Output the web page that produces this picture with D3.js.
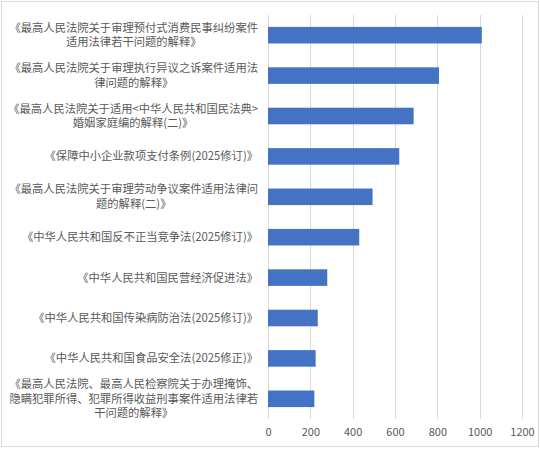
<!DOCTYPE html>
<html>
<head>
<meta charset="utf-8">
<script src="https://cdn.jsdelivr.net/npm/d3@7"></script>
<style>
  html, body { margin: 0; padding: 0; background: #fff; }
  svg { display: block; }
  text { font-family: "Noto Sans CJK SC", "Noto Sans", sans-serif; }
</style>
</head>
<body>
<svg id="chart" width="540" height="450"></svg>
<script>
const categories = [
  "《最高人民法院关于审理预付式消费民事纠纷案件\n适用法律若干问题的解释》",
  "《最高人民法院关于审理执行异议之诉案件适用法\n律问题的解释》",
  "《最高人民法院关于适用<中华人民共和国民法典>\n婚姻家庭编的解释(二)》",
  "《保障中小企业款项支付条例(2025修订)》",
  "《最高人民法院关于审理劳动争议案件适用法律问\n题的解释(二)》",
  "《中华人民共和国反不正当竞争法(2025修订)》",
  "《中华人民共和国民营经济促进法》",
  "《中华人民共和国传染病防治法(2025修订)》",
  "《中华人民共和国食品安全法(2025修正)》",
  "《最高人民法院、最高人民检察院关于办理掩饰、\n隐瞒犯罪所得、犯罪所得收益刑事案件适用法律若\n干问题的解释》"
];
const values = [1010, 808, 688, 620, 494, 431, 280, 235, 225, 219];
const tickValues = [0, 200, 400, 600, 800, 1000, 1200];

const svg = d3.select("#chart");
const W = 540, H = 450;

// outer border
svg.append("rect").attr("x", 1.5).attr("y", 1.5).attr("width", W - 3).attr("height", H - 5)
  .attr("fill", "#fff").attr("stroke", "#d9d9d9").attr("stroke-width", 1);

const x = d3.scaleLinear().domain([0, 1200]).range([268, 522]);
const y = d3.scaleBand().domain(d3.range(categories.length)).range([15, 419]).paddingInner(0.59).paddingOuter(0.295);

// gridlines
svg.append("g").selectAll("line").data(tickValues).join("line")
  .attr("x1", d => Math.round(x(d)) + 0.5).attr("x2", d => Math.round(x(d)) + 0.5)
  .attr("y1", 15).attr("y2", 419)
  .attr("stroke", "#d9d9d9").attr("stroke-width", 1);

// bars
svg.append("g").selectAll("rect").data(values).join("rect")
  .attr("x", x(0)).attr("y", (d, i) => y(i))
  .attr("width", d => x(d) - x(0)).attr("height", y.bandwidth())
  .attr("fill", "#4472c4");

// x axis
const xAxis = d3.axisBottom(x).tickValues(tickValues).tickFormat(d3.format("d")).tickSize(0).tickPadding(0);
const gx = svg.append("g").attr("transform", "translate(0,428)").call(xAxis);
gx.select(".domain").remove();
gx.selectAll("text").attr("fill", "#595959").attr("font-size", 11)
  .attr("font-family", "'Noto Sans CJK SC', sans-serif").attr("dy", "0.71em");

// category labels: block right-aligned at labelRight, lines centered within block
const labelRight = 258, fs = 11.3, lh = 14.6;
const lg = svg.append("g").attr("font-size", fs).attr("fill", "#595959");
categories.forEach((c, i) => {
  const lines = c.split("\n");
  const cy = y(i) + y.bandwidth() / 2;
  const g = lg.append("g");
  const texts = lines.map((ln, k) => g.append("text")
    .attr("y", cy + (k - (lines.length - 1) / 2) * lh)
    .attr("dy", "0.35em").text(ln));
  const widths = texts.map(t => t.node().getComputedTextLength());
  const maxW = d3.max(widths);
  const center = labelRight - maxW / 2;
  texts.forEach(t => t.attr("x", center).attr("text-anchor", "middle"));
});
</script>
</body>
</html>
